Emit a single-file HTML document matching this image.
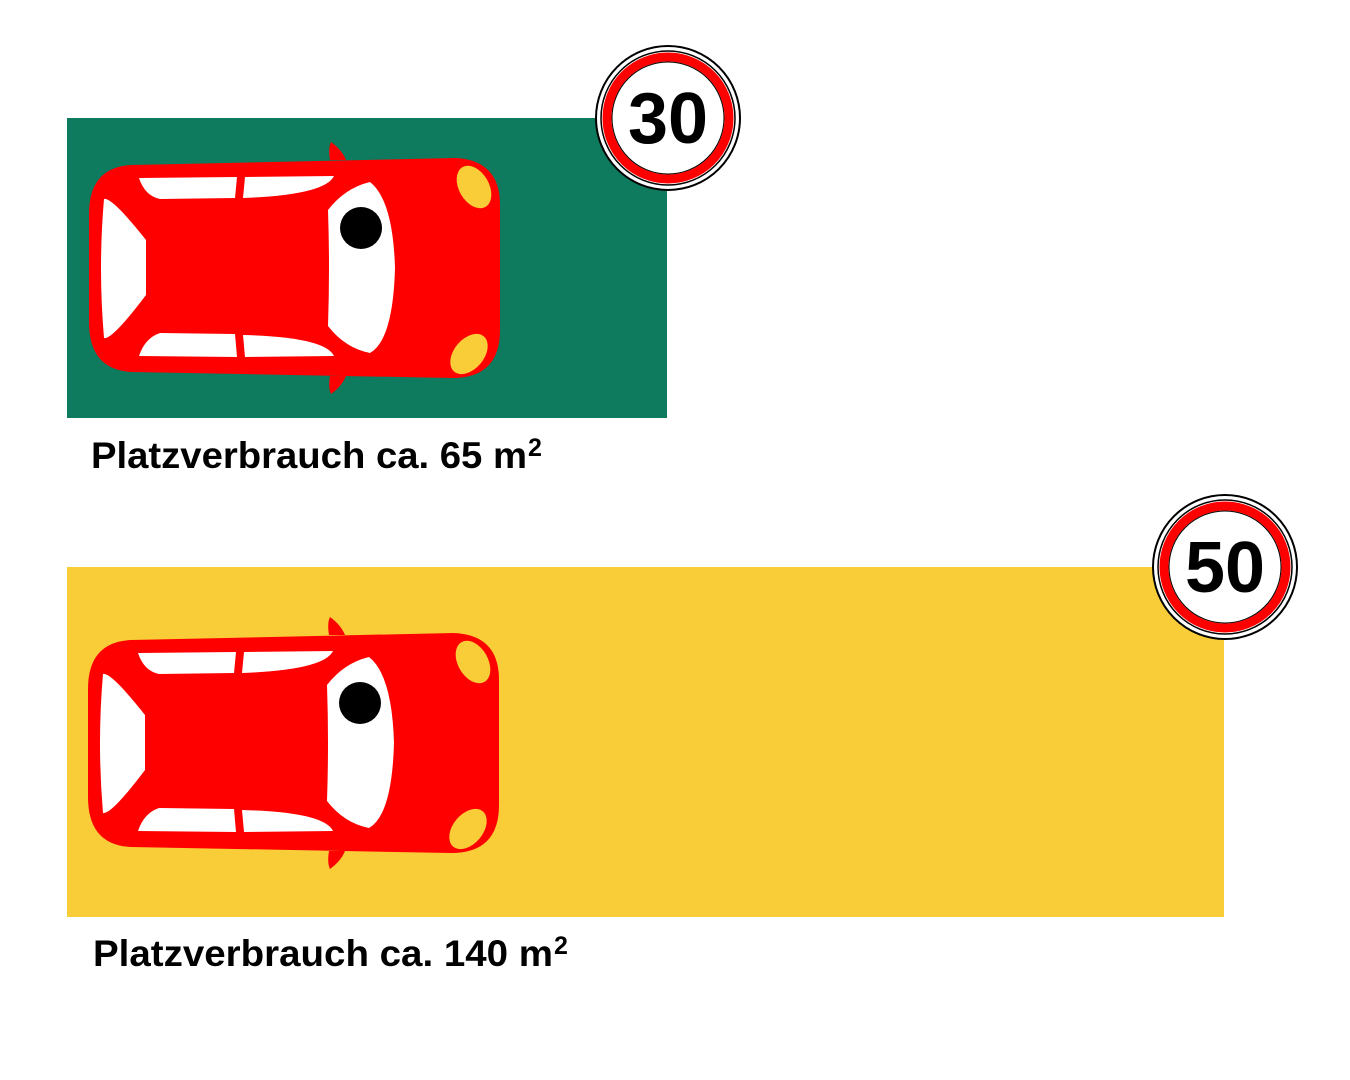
<!DOCTYPE html>
<html><head><meta charset="utf-8"><style>
html,body{margin:0;padding:0;background:#fff;width:1350px;height:1080px;overflow:hidden}
svg{display:block}
</style></head><body>
<svg width="1350" height="1080" viewBox="0 0 1350 1080" xmlns="http://www.w3.org/2000/svg">
<defs>
<g id="car">
  <path d="M330 160 Q328 148 331 142 Q342 150 346 160 Z" fill="#ff0000"/>
  <path d="M330 376 Q328 388 331 394 Q342 386 346 376 Z" fill="#ff0000"/>
  <path d="M132 165 L455 158 Q500 160 500 205 L500 330 Q500 378 452 378 L132 372 Q89 370 89 322 L89 214 Q89 167 132 165 Z" fill="#ff0000"/>
  <path d="M139 178 L237 177 L235 198 L160 199 Q145 196 139 178 Z" fill="#fff"/>
  <path d="M245 177 L334 176 Q325 195 243 198 Z" fill="#fff"/>
  <path d="M139 356 L237 357 L235 334 L160 333 Q145 338 139 356 Z" fill="#fff"/>
  <path d="M245 357 L334 356 Q325 337 243 335 Z" fill="#fff"/>
  <path d="M104 199 Q98 268 104 338 Q112 340 146 295 L146 240 Q112 197 104 199 Z" fill="#fff"/>
  <path d="M328 210 Q345 188 370 182 Q393 200 395 268 Q393 340 370 353 Q345 348 328 326 Q330 268 328 210 Z" fill="#fff"/>
  <ellipse cx="361" cy="228" rx="21" ry="21" fill="#000"/>
  <ellipse cx="474" cy="187" rx="15" ry="23" transform="rotate(-30 474 187)" fill="#f8cd37"/>
  <ellipse cx="469" cy="354" rx="15" ry="23" transform="rotate(40 469 354)" fill="#f8cd37"/>
</g>
<g id="sign">
  <circle cx="0" cy="0" r="72" fill="#fff" stroke="#000" stroke-width="2"/>
  <circle cx="0" cy="0" r="67" fill="none" stroke="#000" stroke-width="1.5"/>
  <circle cx="0" cy="0" r="61" fill="none" stroke="#ff0000" stroke-width="9"/>
  <circle cx="0" cy="0" r="56" fill="none" stroke="#000" stroke-width="1"/>
</g>
</defs>
<rect x="67" y="118" width="600" height="300" fill="#0e7a5e"/>
<rect x="67" y="567" width="1157" height="350" fill="#f8cd37"/>
<use href="#car"/>
<use href="#car" transform="translate(-1 475)"/>
<g transform="translate(668 118)"><use href="#sign"/>
<text x="0" y="25" text-anchor="middle" font-family="Liberation Sans, sans-serif" font-weight="bold" font-size="72" textLength="80" lengthAdjust="spacingAndGlyphs">30</text></g>
<g transform="translate(1225 567)"><use href="#sign"/>
<text x="0" y="25" text-anchor="middle" font-family="Liberation Sans, sans-serif" font-weight="bold" font-size="72" textLength="80" lengthAdjust="spacingAndGlyphs">50</text></g>
<text x="91" y="468" font-family="Liberation Sans, sans-serif" font-weight="bold" font-size="37" textLength="436" lengthAdjust="spacingAndGlyphs">Platzverbrauch ca. 65 m</text>
<text x="528" y="456" font-family="Liberation Sans, sans-serif" font-weight="bold" font-size="25">2</text>
<text x="93" y="966" font-family="Liberation Sans, sans-serif" font-weight="bold" font-size="37" textLength="460" lengthAdjust="spacingAndGlyphs">Platzverbrauch ca. 140 m</text>
<text x="554" y="954" font-family="Liberation Sans, sans-serif" font-weight="bold" font-size="25">2</text>
</svg>
</body></html>
